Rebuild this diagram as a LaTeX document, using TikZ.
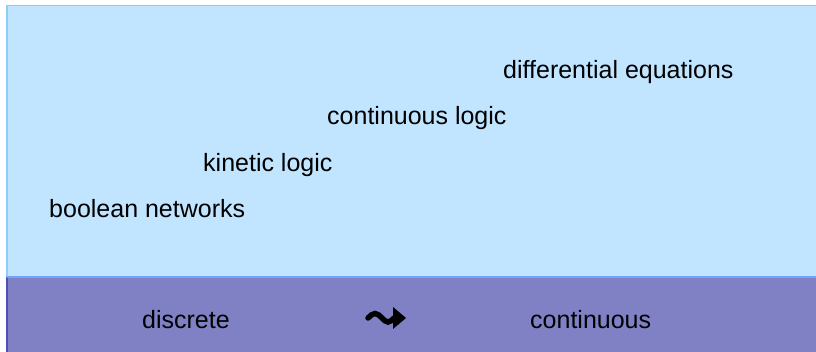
\documentclass[tikz,border=0pt]{standalone}
\usepackage{fontspec}
\setmainfont{Liberation Sans}
\usepackage{tikz}
\usetikzlibrary{positioning, calc}

\definecolor{skyfill}{RGB}{194,229,255}
\definecolor{skyline}{RGB}{140,206,250}
\definecolor{bandfill}{RGB}{128,128,197}
\definecolor{bandline}{RGB}{80,80,176}

\begin{document}
\begin{tikzpicture}[x=1pt, y=1pt,
    label/.style={anchor=base west, inner sep=0pt, font=\fontsize{25}{30}\selectfont, text=black},
    squiggle/.style={line width=5.5pt, line cap=round, black}
]
    \clip (0,0) rectangle (816,-352);
    \useasboundingbox (0,0) rectangle (816,-352);

    % background panels
    \draw [fill=skyfill, draw=skyline, line width=1.5pt] (7,-5.5) rectangle (830,-277);
    \fill [bandfill] (7,-277) rectangle (830,-360);
    \draw [bandline, line width=1.5pt] (7,-277) -- (7,-360);
    \draw [skyline!80!blue, line width=1.5pt] (7,-277) -- (830,-277);

    % methods
    \node [label] (diffeq) at (503,-79) {differential equations};
    \node [label] (contlog) at (327,-125) {continuous logic};
    \node [label] (kinlog) at (203,-172) {kinetic logic};
    \node [label] (boolnet) at (49,-218) {boolean networks};

    % scale
    \node [label] (discrete) at (142,-329) {discrete};
    \node [label] (continuous) at (530,-329) {continuous};

    \coordinate (sqa) at (368,-318);
    \coordinate (sqb) at (394,-318);
    \draw [squiggle] (sqa) sin ++(7,4.5) cos ++(7,-4.5) sin ++(6,-4) cos (sqb);
    \fill (sqb) ++(-1,11) -- ++(13,-11) -- ++(-13,-11) -- cycle;
\end{tikzpicture}
\end{document}
